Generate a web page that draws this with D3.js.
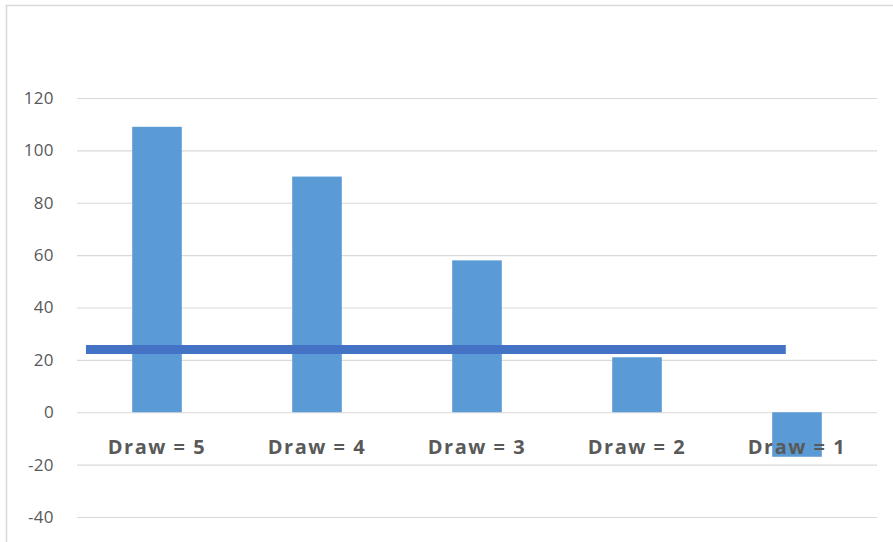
<!DOCTYPE html>
<html>
<head>
<meta charset="utf-8">
<script src="https://cdn.jsdelivr.net/npm/d3@7"></script>
<style>
  html, body { margin: 0; padding: 0; background: #fff; }
  svg { display: block; }
</style>
</head>
<body>
<svg id="chart" width="893" height="542"></svg>
<script>
// Categories, bar values and the average line
const categories = ["Draw = 5", "Draw = 4", "Draw = 3", "Draw = 2", "Draw = 1"];
const values = [109, 90, 58, 21, -17];
const averageValue = 24;
const tickValues = [-40, -20, 0, 20, 40, 60, 80, 100, 120];

const W = 893, H = 542;
const plot = { left: 77, right: 877, top: 98, bottom: 517 };

const svg = d3.select("#chart");

// Chart frame (only the top and left edges fall inside the view)
svg.append("path")
  .attr("d", `M6.5,${H} V5.5 H${W}`)
  .attr("fill", "none")
  .attr("stroke", "#d9d9d9")
  .attr("stroke-width", 1.5);

const y = d3.scaleLinear().domain([-40, 120]).range([plot.bottom, plot.top]);
const x = d3.scaleBand().domain(categories).range([plot.left, plot.right]).paddingInner(0.69).paddingOuter(0.345);

// Gridlines and value labels via a left axis
const yAxis = d3.axisLeft(y)
  .tickValues(tickValues)
  .tickFormat(d => String(d))
  .tickSize(-(plot.right - plot.left))
  .tickPadding(23);
const gy = svg.append("g").attr("transform", `translate(${plot.left},0)`).call(yAxis);
gy.select(".domain").remove();
gy.selectAll(".tick line").attr("stroke", "#d9d9d9").attr("stroke-width", 1.2);
gy.selectAll(".tick text")
  .attr("fill", "#595959")
  .style("font-family", "'Open Sans', 'Noto Sans', sans-serif")
  .style("font-size", "17px")
  .style("letter-spacing", "0.4px");

// Bars
svg.append("g").selectAll("rect")
  .data(values)
  .join("rect")
  .attr("x", (d, i) => x(categories[i]))
  .attr("width", x.bandwidth())
  .attr("y", d => y(Math.max(0, d)))
  .attr("height", d => Math.abs(y(d) - y(0)))
  .attr("fill", "#5b9bd5");

// Category labels sit just below the zero line
svg.append("g").selectAll("text")
  .data(categories)
  .join("text")
  .attr("x", d => x(d) + x.bandwidth() / 2)
  .attr("y", y(0) + 42)
  .attr("text-anchor", "middle")
  .attr("fill", "#595959")
  .style("font-family", "'Open Sans', 'Noto Sans', sans-serif")
  .style("font-weight", "700")
  .style("font-size", "20px")
  .style("letter-spacing", "1.5px")
  .text(d => d);

// Average line, positioned along the category index
const xi = d3.scaleLinear()
  .domain([0, categories.length - 1])
  .range([x(categories[0]) + x.bandwidth() / 2, x(categories[categories.length - 1]) + x.bandwidth() / 2]);
svg.append("line")
  .attr("x1", xi(-0.444))
  .attr("x2", xi(3.93))
  .attr("y1", y(averageValue))
  .attr("y2", y(averageValue))
  .attr("stroke", "#4472c4")
  .attr("stroke-width", 9);
</script>
</body>
</html>
